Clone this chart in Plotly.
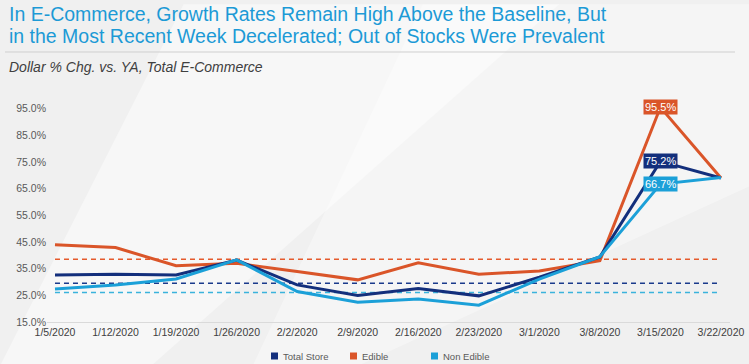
import plotly.graph_objects as go

weeks = ["1/5/2020", "1/12/2020", "1/19/2020", "1/26/2020", "2/2/2020", "2/9/2020",
         "2/16/2020", "2/23/2020", "3/1/2020", "3/8/2020", "3/15/2020", "3/22/2020"]
total_store = [32.6, 32.9, 32.6, 38.2, 28.9, 24.9, 27.6, 24.8, 31.8, 39.4, 75.2, 69.0]
edible = [44.0, 42.9, 36.1, 37.0, 33.9, 30.8, 37.2, 32.9, 34.1, 38.0, 95.5, 69.0]
non_edible = [27.4, 28.9, 31.1, 38.3, 26.4, 22.4, 23.6, 21.3, 31.1, 39.5, 66.7, 69.2]
baseline_total = 29.5
baseline_edible = 38.5
baseline_non_edible = 26.1
y_ticks = [15, 25, 35, 45, 55, 65, 75, 85, 95]
series_names = ["Total Store", "Edible", "Non Edible"]

C_TOTAL = "#132f7c"
C_EDIBLE = "#da5529"
C_NON = "#1ba0d8"

W, H = 749, 364
L, R, T, B = 47, 19, 95, 42
PW, PH = W - L - R, H - T - B


def px_x(p):
    return (p - L) / PW


def px_y(p):
    return 1 - (p - T) / PH


x = list(range(len(weeks)))
fig = go.Figure()

# baselines (dashed)
for val, col in [(baseline_edible, "#e55a2c"), (baseline_total, "#1a3a8c"), (baseline_non_edible, "#3ab3dc")]:
    fig.add_trace(go.Scatter(x=[x[0], x[-1]], y=[val, val], mode="lines",
                             line=dict(color=col, width=1.5, dash="5px,4px"),
                             showlegend=False, hoverinfo="skip"))

for name, ys, col in [("Edible", edible, C_EDIBLE), ("Total Store", total_store, C_TOTAL),
                      ("Non Edible", non_edible, C_NON)]:
    fig.add_trace(go.Scatter(x=x, y=ys, mode="lines", name=name,
                             line=dict(color=col, width=3), showlegend=False))

# value labels at 3/15
for ys, col in [(edible, C_EDIBLE), (total_store, C_TOTAL), (non_edible, C_NON)]:
    i = 10
    fig.add_annotation(x=x[i], y=ys[i], text=f"{ys[i]:.1f}%", showarrow=False,
                       bgcolor=col, font=dict(color="white", size=11, family="Liberation Sans"),
                       borderpad=1, xanchor="center", yanchor="middle")

# title, subtitle
title_lines = ["In E-Commerce, Growth Rates Remain High Above the Baseline, But",
               "in the Most Recent Week Decelerated; Out of Stocks Were Prevalent"]
for line, yp in zip(title_lines, [14, 36]):
    fig.add_annotation(xref="paper", yref="paper", x=px_x(7), y=px_y(yp),
                       xanchor="left", yanchor="middle", showarrow=False, text=line,
                       font=dict(size=19.5, color="#1c9ad6", family="Liberation Sans"))
fig.add_annotation(xref="paper", yref="paper", x=px_x(7), y=px_y(67),
                   xanchor="left", yanchor="middle", showarrow=False,
                   text="<i>Dollar % Chg. vs. YA, Total E-Commerce</i>",
                   font=dict(size=14, color="#404040", family="Liberation Sans"))

shapes = [
    dict(type="line", xref="paper", yref="paper", x0=px_x(5), x1=px_x(735),
         y0=px_y(52), y1=px_y(52), line=dict(color="#cfcfcf", width=1)),
    # subtle background swooshes
    dict(type="path", xref="paper", yref="paper", layer="below",
         path="M 0.2,1.4 L 0.75,1.4 L 0.15,-0.2 L -0.07,-0.2 Z",
         fillcolor="rgba(255,255,255,0.45)", line=dict(width=0)),
    dict(type="path", xref="paper", yref="paper", layer="below",
         path="M 0.55,1.4 L 1.03,1.4 L 1.03,0.6 L 0.45,-0.2 L 0.3,-0.2 Z",
         fillcolor="rgba(255,255,255,0.35)", line=dict(width=0)),
]

# legend (square key + label)
legend_pos = [271, 350, 431]
for name, col, lx in zip(series_names, [C_TOTAL, C_EDIBLE, C_NON], legend_pos):
    shapes.append(dict(type="rect", xref="paper", yref="paper",
                       x0=px_x(lx), x1=px_x(lx + 7), y0=px_y(359.5), y1=px_y(352.5),
                       fillcolor=col, line=dict(width=0)))
    fig.add_annotation(xref="paper", yref="paper", x=px_x(lx + 10), y=px_y(356),
                       xanchor="left", yanchor="middle", showarrow=False, text=name,
                       font=dict(size=9.5, color="#595959", family="Liberation Sans"))

fig.update_layout(
    width=W, height=H,
    margin=dict(l=L, r=R, t=T, b=B, autoexpand=False),
    paper_bgcolor="#f0f0f0", plot_bgcolor="rgba(0,0,0,0)",
    shapes=shapes,
    font=dict(family="Liberation Sans", color="#555555"),
    xaxis=dict(range=[-0.132, 11.149], tickvals=x, ticktext=weeks, showgrid=False,
               zeroline=False, showline=True, linecolor="#dadada", linewidth=1,
               tickfont=dict(size=10.5, color="#404040"), ticks="", automargin=False),
    yaxis=dict(range=[15, 100.1], tickvals=y_ticks, ticktext=[f"{v:.1f}%" for v in y_ticks],
               showgrid=False, zeroline=False, showline=False,
               tickfont=dict(size=10.5, color="#595959"), ticks="", automargin=False),
    showlegend=False,
)

fig.write_html("out.html", config={"displayModeBar": False},
               post_script="document.body.style.margin='0';document.body.style.overflow='hidden';")
